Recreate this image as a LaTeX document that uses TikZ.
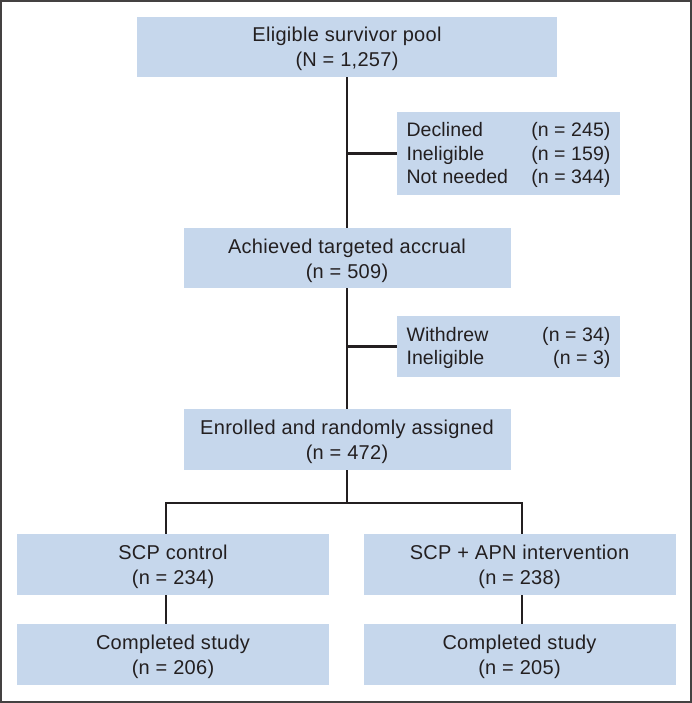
\documentclass[tikz,border=0pt]{standalone}
\usepackage{fontspec}
\setmainfont{Liberation Sans}[LetterSpace=1.5]
\newfontfamily\exclfont{Liberation Sans}[LetterSpace=0.5]
\definecolor{boxblue}{HTML}{C6D7EC}
\definecolor{ink}{HTML}{231F20}

\def\xMain{347}
\def\xLeft{166}
\def\xRight{522}
\def\ySplit{503}

\begin{document}
\begin{tikzpicture}[x=1pt, y=-1pt,
    box/.style={fill=boxblue, draw=none, text=ink, align=center, inner sep=0pt,
        font=\fontsize{20}{25}\selectfont, text height=42pt, text depth=2pt},
    exclbox/.style={fill=boxblue, draw=none, text=ink, anchor=center, inner sep=0pt,
        font=\exclfont\fontsize{19.5}{23.5}\selectfont},
    link/.style={draw=ink, line width=2.5pt}]
        \useasboundingbox (0,0) rectangle (692,703);
        \draw[line width=2pt, draw=ink!85] (1,1) rectangle (691,702);

        % main column
        \node[box, minimum width=420, minimum height=60] (pool) at (\xMain,47)
            {Eligible survivor pool\\(N = 1,257)};
        \node[box, minimum width=327, minimum height=60] (accrual) at (\xMain,258)
            {Achieved targeted accrual\\(n = 509)};
        \node[box, minimum width=327, minimum height=61] (enrolled) at (\xMain,439.5)
            {Enrolled and randomly assigned\\(n = 472)};

        % exclusions
        \node[exclbox, minimum width=223, minimum height=83] (excl1) at (508.5,153.5)
            {\raisebox{-2pt}[\height][\depth]{\begin{tabular*}{204pt}{@{}l@{\extracolsep{\fill}}r@{}}
             Declined & (n = 245)\\ Ineligible & (n = 159)\\ Not needed & (n = 344)
             \end{tabular*}}};
        \node[exclbox, minimum width=223, minimum height=61] (excl2) at (508.5,346.5)
            {\raisebox{-2pt}[\height][\depth]{\begin{tabular*}{204pt}{@{}l@{\extracolsep{\fill}}r@{}}
             Withdrew & (n = 34)\\ Ineligible & (n = 3)
             \end{tabular*}}};

        % arms
        \node[box, minimum width=312, minimum height=61] (control) at (173,564.5)
            {SCP control\\(n = 234)};
        \node[box, minimum width=312, minimum height=61] (apn) at (519.5,564.5)
            {SCP + APN intervention\\(n = 238)};
        \node[box, minimum width=312, minimum height=61] (doneA) at (173,654.5)
            {Completed study\\(n = 206)};
        \node[box, minimum width=312, minimum height=61] (doneB) at (519.5,654.5)
            {Completed study\\(n = 205)};

        \coordinate (split) at (\xMain,\ySplit);

        \draw[link] (pool.south) -- (accrual.north);
        \draw[link] (accrual.south) -- (enrolled.north);
        \draw[link] (excl1.west) -- (excl1.west -| pool.south);
        \draw[link] (excl2.west) -- (excl2.west -| pool.south);
        \draw[link] (enrolled.south) -- (split);
        \draw[link] (control.north -| \xLeft,0) |- (split) -| (apn.north -| \xRight,0);
        \draw[link] (control.south -| \xLeft,0) -- (doneA.north -| \xLeft,0);
        \draw[link] (apn.south -| \xRight,0) -- (doneB.north -| \xRight,0);
      \end{tikzpicture}
\end{document}
